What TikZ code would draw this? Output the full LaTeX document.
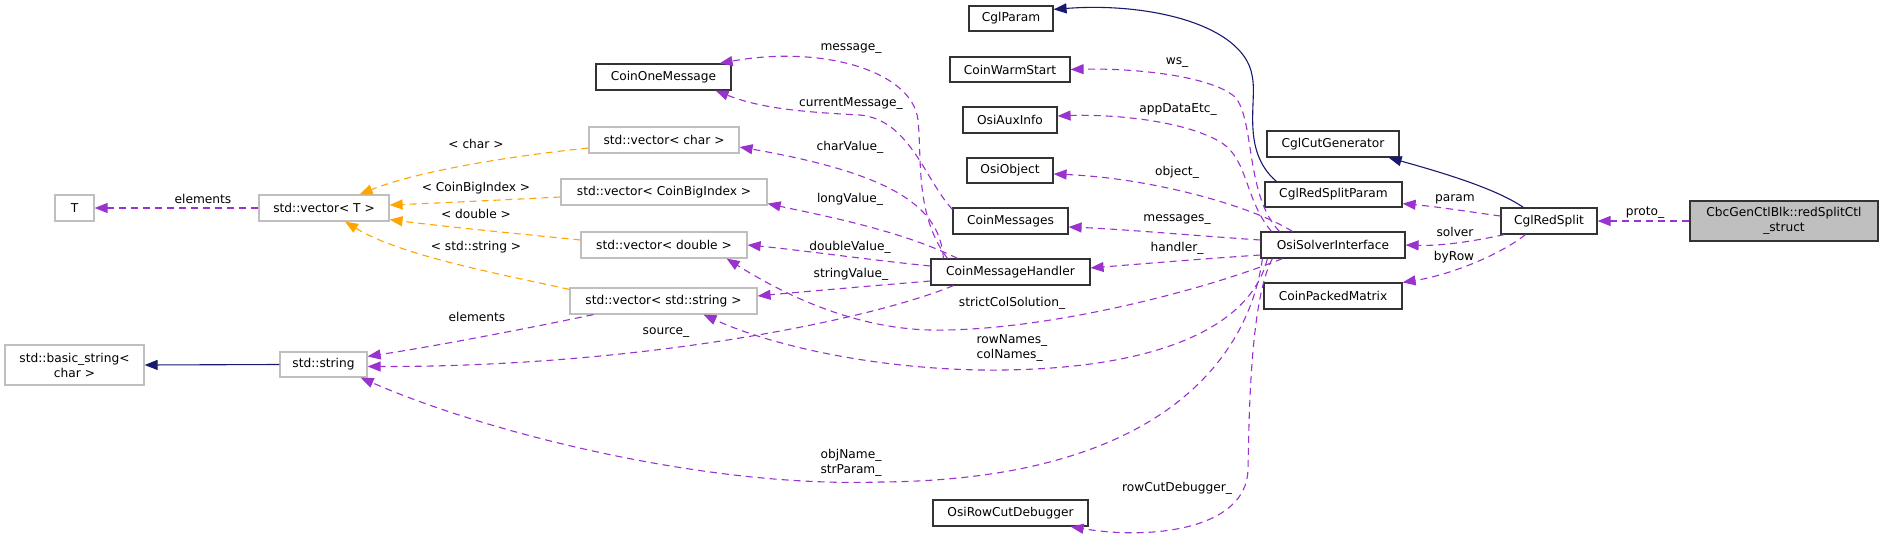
\documentclass[tikz,border=0pt]{standalone}
\usepackage{fontspec}
\setmainfont{DejaVu Sans}
\usetikzlibrary{arrows.meta}
\definecolor{edgepurple}{HTML}{9A32CD}
\definecolor{edgeorange}{HTML}{FFA500}
\definecolor{edgenavy}{HTML}{191970}
\definecolor{extgrey}{HTML}{BFBFBF}
\definecolor{boxborder}{HTML}{333333}
\begin{document}
\begin{tikzpicture}[x=1pt,y=-1pt,
  font=\fontsize{12.2}{15}\selectfont,
  cls/.style={draw=boxborder, line width=1.2pt, rectangle, inner sep=0pt, align=center, minimum height=26pt},
  ext/.style={draw=extgrey, line width=1.2pt, rectangle, inner sep=0pt, align=center, minimum height=26pt},
  tip/.style={-{Triangle[length=13pt,width=10pt]}},
  member/.style={draw=edgepurple, line width=1.1pt, dash pattern=on 7pt off 5pt, tip},
  tmpl/.style={draw=edgeorange, line width=1.1pt, dash pattern=on 7pt off 5pt, tip},
  inherit/.style={draw=edgenavy, line width=1.1pt, tip},
  lbl/.style={inner sep=0pt, align=center}
]
\useasboundingbox (0,0) rectangle (1883,538);

% nodes
\node[ext, minimum width=39pt] (T) at (74.5,208) {T};
\node[ext, minimum width=130pt] (vecT) at (324,208) {std::vector< T >};
\node[ext, minimum width=139pt, minimum height=40pt] (basic) at (74.5,365) {std::basic\_string<\\char >};
\node[ext, minimum width=87pt, minimum height=25pt] (str) at (323.5,364.5) {std::string};
\node[ext, minimum width=150pt] (vchar) at (664,140) {std::vector< char >};
\node[ext, minimum width=206pt] (vcbi) at (664,192) {std::vector< CoinBigIndex >};
\node[ext, minimum width=166pt] (vdbl) at (664,245) {std::vector< double >};
\node[ext, minimum width=187pt] (vstr) at (663.5,301) {std::vector< std::string >};
\node[cls, minimum width=135pt] (com) at (663.5,77) {CoinOneMessage};
\node[cls, minimum width=159pt] (cmh) at (1010.5,272) {CoinMessageHandler};
\node[cls, minimum width=84pt, minimum height=25pt] (cp) at (1011,18.5) {CglParam};
\node[cls, minimum width=120pt, minimum height=25pt] (cws) at (1010,69.5) {CoinWarmStart};
\node[cls, minimum width=94pt] (oai) at (1010,120) {OsiAuxInfo};
\node[cls, minimum width=86pt, minimum height=25pt] (oo) at (1010,170.5) {OsiObject};
\node[cls, minimum width=115pt] (cm) at (1010.5,221) {CoinMessages};
\node[cls, minimum width=155pt] (orcd) at (1010.5,513) {OsiRowCutDebugger};
\node[cls, minimum width=132pt] (ccg) at (1333,144) {CglCutGenerator};
\node[cls, minimum width=137pt, minimum height=25pt] (crsp) at (1333.5,194.5) {CglRedSplitParam};
\node[cls, minimum width=144pt] (osi) at (1333,245) {OsiSolverInterface};
\node[cls, minimum width=138pt] (cpm) at (1333,296) {CoinPackedMatrix};
\node[cls, minimum width=96pt] (crs) at (1549,221) {CglRedSplit};
\node[cls, fill=extgrey, minimum width=188pt, minimum height=40pt] (cbc) at (1784,221) {CbcGenCtlBlk::redSplitCtl\\\_struct};

% inheritance
\draw[inherit] (str.west) -- (basic.east);
\draw[inherit] ([xshift=23pt]crs.north west) .. controls (1495,188) and (1440,172) .. ([xshift=-11pt]ccg.south east);
\draw[inherit] ([xshift=12pt]crsp.north west) .. controls (1240,150) and (1258,100) .. (1252,75) .. controls (1243,25) and (1150,2) .. ([yshift=-4pt]cp.north east);

% template instances
\draw[tmpl] ([yshift=-8pt]vchar.west) .. controls (520,155) and (420,170) .. ([xshift=-30pt]vecT.north east);
\draw[tmpl] ([yshift=-5pt]vcbi.west) .. controls (500,200) and (440,203) .. ([yshift=3pt]vecT.east);
\draw[tmpl] ([yshift=5pt]vdbl.west) .. controls (500,232) and (440,226) .. ([yshift=2pt]vecT.south east);
\draw[tmpl] ([yshift=-2pt]vstr.north west) .. controls (490,272) and (400,255) .. ([xshift=21pt]vecT.south);

% members
\draw[member] (vecT.west) -- (T.east);
\draw[member] ([xshift=24pt]vstr.south west) .. controls (520,330) and (430,347) .. ([yshift=-5pt]str.north east);
\draw[member] ([xshift=23pt]cmh.south west) .. controls (870,320) and (640,367) .. ([yshift=-2pt]str.east);
\draw[member] ([xshift=2pt]osi.south west) .. controls (1250,350) and (1170,480) .. (880,482) .. controls (700,488) and (480,430) .. ([xshift=-7pt]str.south east);
\draw[member] ([xshift=7pt]osi.south west) .. controls (1250,330) and (1150,372) .. (980,370) .. controls (870,368) and (770,345) .. ([xshift=40pt]vstr.south);
\draw[member] ([xshift=22pt]osi.south west) .. controls (1200,292) and (1040,332) .. (930,330) .. controls (850,328) and (780,292) .. ([xshift=-21pt]vdbl.south east);
\draw[member] ([yshift=6pt]cmh.west) .. controls (870,260) and (800,250) .. (vdbl.east);
\draw[member] ([yshift=-9pt]cmh.west) .. controls (870,286) and (800,292) .. ([yshift=5pt]vstr.east);
\draw[member] ([xshift=27pt]cmh.north west) .. controls (900,230) and (820,215) .. ([yshift=2pt]vcbi.south east);
\draw[member] ([xshift=13pt]cmh.north west) .. controls (940,210) and (900,175) .. ([yshift=-7pt]vchar.east);
\draw[member] ([xshift=17pt]cmh.north west) .. controls (915,215) and (922,160) .. (918,120) .. controls (912,70) and (820,45) .. ([xshift=-12pt]com.north east);
\draw[member] ([yshift=-2pt]cm.north west) .. controls (925,180) and (910,120) .. (860,115) .. controls (800,112) and (760,108) .. ([xshift=-16pt]com.south east);
\draw[member] ([xshift=19pt]osi.north west) .. controls (1245,195) and (1255,120) .. (1235,97) .. controls (1210,75) and (1130,68) .. (cws.east);
\draw[member] ([xshift=11pt]osi.north west) .. controls (1245,200) and (1248,160) .. (1222,143) .. controls (1185,120) and (1110,114) .. ([yshift=4pt]oai.east);
\draw[member] ([xshift=32pt]osi.north west) .. controls (1250,205) and (1150,178) .. ([yshift=-3.5pt]oo.east);
\draw[member] ([yshift=5pt]osi.west) .. controls (1200,236) and (1120,229) .. ([yshift=-6pt]cm.east);
\draw[member] ([yshift=-10pt]osi.west) .. controls (1200,259) and (1140,264) .. ([yshift=4pt]cmh.east);
\draw[member] ([xshift=12pt]osi.south west) .. controls (1250,300) and (1249,420) .. (1248,470) .. controls (1246,530) and (1150,540) .. ([xshift=-18pt]orcd.south east);
\draw[member] ([xshift=4pt]crs.south west) .. controls (1470,242) and (1440,246) .. (osi.east);
\draw[member] ([yshift=5pt]crs.west) .. controls (1470,212) and (1440,207) .. ([yshift=4pt]crsp.south east);
\draw[member] ([xshift=25pt]crs.south west) .. controls (1500,255) and (1450,275) .. (cpm.north east);
\draw[member] (cbc.west) -- (crs.east);

% labels
\node[lbl] (lElemT) at (203,199) {elements};
\node[lbl] (lChar) at (476,144) {< char >};
\node[lbl] (lCbi) at (476,188) {< CoinBigIndex >};
\node[lbl] (lDbl) at (476,214) {< double >};
\node[lbl] (lStr) at (476,247) {< std::string >};
\node[lbl] (lElemS) at (477,317) {elements};
\node[lbl] (lSource) at (666,333) {source\_};
\node[lbl] (lObjName) at (851,463) {objName\_\\strParam\_};
\node[lbl, align=left] (lRowNames) at (1012,348) {rowNames\_\\colNames\_};
\node[lbl] (lStrict) at (1012,303) {strictColSolution\_};
\node[lbl] (lDouble) at (850,247) {doubleValue\_};
\node[lbl] (lString) at (851,274) {stringValue\_};
\node[lbl] (lCharV) at (850,147) {charValue\_};
\node[lbl] (lLong) at (850,199) {longValue\_};
\node[lbl] (lMessage) at (851,49) {message\_};
\node[lbl] (lCurMsg) at (851,103) {currentMessage\_};
\node[lbl] (lWs) at (1177,63) {ws\_};
\node[lbl] (lApp) at (1178,109) {appDataEtc\_};
\node[lbl] (lObject) at (1177,172) {object\_};
\node[lbl] (lMessages) at (1177,220) {messages\_};
\node[lbl] (lHandler) at (1177,248) {handler\_};
\node[lbl] (lRowCut) at (1177,488) {rowCutDebugger\_};
\node[lbl] (lParam) at (1455,199) {param};
\node[lbl] (lSolver) at (1455,232) {solver};
\node[lbl] (lByRow) at (1454,257) {byRow};
\node[lbl] (lProto) at (1645,213) {proto\_};
\end{tikzpicture}
\end{document}
